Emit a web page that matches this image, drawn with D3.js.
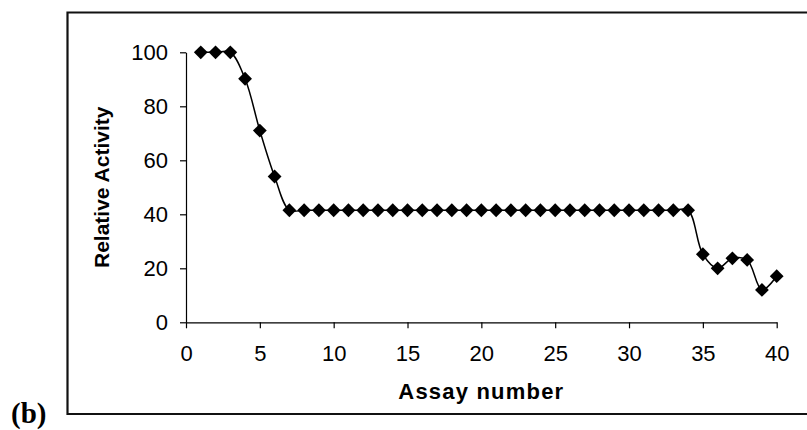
<!DOCTYPE html>
<html>
<head>
<meta charset="utf-8">
<script src="https://cdn.jsdelivr.net/npm/d3@7"></script>
<style>
  html, body { margin: 0; padding: 0; background: #fff; }
  svg { display: block; }
</style>
</head>
<body>
<script>
// ---- data ----
const assayNumbers = [1,2,3,4,5,6,7,8,9,10,11,12,13,14,15,16,17,18,19,20,
                      21,22,23,24,25,26,27,28,29,30,31,32,33,34,35,36,37,38,39,40];
const relativeActivity = [100,100,100,90.2,71,54,
  41.5,41.5,41.5,41.5,41.5,41.5,41.5,41.5,41.5,41.5,41.5,41.5,41.5,41.5,
  41.5,41.5,41.5,41.5,41.5,41.5,41.5,41.5,41.5,41.5,41.5,41.5,41.5,41.5,
  25.2,20,23.7,23.1,12,17.1];
const xTicks = [0,5,10,15,20,25,30,35,40];
const yTicks = [0,20,40,60,80,100];
const xTitle = "Assay number";
const yTitle = "Relative Activity";
const panelLabel = "(b)";

// ---- layout ----
const W = 807, H = 430;
const svg = d3.select("body").append("svg").attr("width", W).attr("height", H);

const x = d3.scaleLinear().domain([0, 40]).range([186, 776.7]);
const y = d3.scaleLinear().domain([0, 100]).range([322.3, 52.3]);

// outer frame (right side runs off the image)
svg.append("path")
  .attr("d", "M 830 12.5 H 67.5 V 414 H 830")
  .attr("fill", "none").attr("stroke", "#111").attr("stroke-width", 2.2);

const fontTick = "'Liberation Sans', Arial, sans-serif";

const xAxis = svg.append("g")
  .attr("transform", `translate(0,${y(0)})`)
  .call(d3.axisBottom(x).tickValues(xTicks).tickSize(6).tickSizeOuter(0).tickPadding(17));
const yAxis = svg.append("g")
  .attr("transform", `translate(${x(0)},0)`)
  .call(d3.axisLeft(y).tickValues(yTicks).tickSize(6).tickSizeOuter(0).tickPadding(12));

[xAxis, yAxis].forEach(g => {
  g.select(".domain").attr("stroke", "#000").attr("stroke-width", 1.2);
  g.selectAll(".tick line").attr("stroke", "#000").attr("stroke-width", 1.2);
  g.selectAll(".tick text")
    .attr("fill", "#000")
    .style("font-family", fontTick)
    .style("font-size", "22px");
});

// line
const pts = assayNumbers.map((a, i) => [a, relativeActivity[i]]);
const line = d3.line()
  .x(d => x(d[0])).y(d => y(d[1]))
  .curve(d3.curveCatmullRom.alpha(0.5));
svg.append("path")
  .attr("d", line(pts))
  .attr("fill", "none").attr("stroke", "#000").attr("stroke-width", 1.5);

// diamond markers
const r = 6.9;
svg.append("g").selectAll("path")
  .data(pts).join("path")
  .attr("d", d => {
    const cx = x(d[0]), cy = y(d[1]);
    return `M${cx},${cy - r}L${cx + r},${cy}L${cx},${cy + r}L${cx - r},${cy}Z`;
  })
  .attr("fill", "#000");

// axis titles
svg.append("text")
  .attr("x", (x(0) + x(40)) / 2).attr("y", 399.3)
  .attr("text-anchor", "middle")
  .style("font-family", fontTick).style("font-size", "22px").style("font-weight", "bold")
  .style("letter-spacing", "1.2px")
  .text(xTitle);

svg.append("text")
  .attr("transform", `translate(109,${(y(0) + y(100)) / 2}) rotate(-90)`)
  .attr("text-anchor", "middle")
  .style("font-family", fontTick).style("font-size", "21px").style("font-weight", "bold")
  .text(yTitle);

// panel label
svg.append("text")
  .attr("x", 11).attr("y", 423)
  .style("font-family", "'Liberation Serif', 'Times New Roman', serif")
  .style("font-size", "29px").style("font-weight", "bold")
  .text(panelLabel);
</script>
</body>
</html>
